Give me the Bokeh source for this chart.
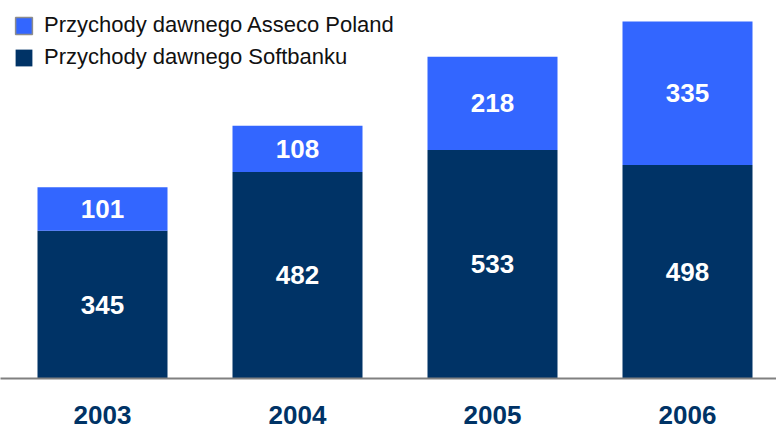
from bokeh.plotting import figure
from bokeh.models import Range1d, LinearAxis, FixedTicker, ColumnDataSource, Legend, LegendItem
from bokeh.core.properties import value
from bokeh.embed import file_html
from bokeh.resources import INLINE

years = ["2003", "2004", "2005", "2006"]
softbank = [345, 482, 533, 498]
asseco = [101, 108, 218, 335]
series_names = ["Przychody dawnego Asseco Poland", "Przychody dawnego Softbanku"]

DARK = "#003366"
LIGHT = "#3366FF"
FONT = "Liberation Sans"

x = list(range(len(years)))
src = ColumnDataSource(dict(
    x=x, soft=softbank, ass=asseco,
    soft_mid=[s / 2 for s in softbank],
    ass_mid=[s + a / 2 for s, a in zip(softbank, asseco)],
    soft_lbl=[str(v) for v in softbank],
    ass_lbl=[str(v) for v in asseco],
))

W, H = 776, 428
FRAME_H = 378
p = figure(width=W, height=H, output_backend="svg", toolbar_location=None,
           x_range=Range1d(-102 / 195, -102 / 195 + W / 195),
           y_range=Range1d(0, FRAME_H / (357 / 833)),
           min_border_left=0, min_border_right=0, min_border_top=0,
           min_border_bottom=H - FRAME_H,
           x_axis_type=None, y_axis_type=None)
p.outline_line_color = None
p.grid.visible = False
p.background_fill_color = "white"
p.border_fill_color = "white"

rs = p.vbar_stack(["soft", "ass"], x="x", width=130 / 195, source=src,
                  color=[DARK, LIGHT], line_color=None)

# legend-only swatch for the Asseco series (thin grey border, as in the original); draws nothing
nan = float("nan")
swatch_src = ColumnDataSource(dict(x=[nan], top=[nan]))
swatch_a = p.vbar(x="x", top="top", width=0.5, source=swatch_src, fill_color=LIGHT,
                  line_color="#8c8c8c", line_width=1.5)

lbl_kw = dict(text_color="white", text_font=value(FONT), text_font_style="bold",
              text_font_size="26px", text_align="center", text_baseline="middle")
p.text(x="x", y="soft_mid", text="soft_lbl", source=src, **lbl_kw)
p.text(x="x", y="ass_mid", text="ass_lbl", source=src, **lbl_kw)

xaxis = LinearAxis(ticker=FixedTicker(ticks=x),
                   major_label_overrides={i: y for i, y in zip(x, years)})
xaxis.axis_line_color = "#808080"
xaxis.axis_line_width = 2
xaxis.major_tick_line_color = None
xaxis.minor_tick_line_color = None
xaxis.major_label_text_font = FONT
xaxis.major_label_text_font_style = "bold"
xaxis.major_label_text_font_size = "26px"
xaxis.major_label_text_color = DARK
xaxis.major_label_standoff = 21
p.add_layout(xaxis, "below")

leg_kw = dict(margin=0, padding=0, glyph_width=21, glyph_height=21, label_standoff=10,
              label_text_font=FONT, label_text_font_size="22px",
              label_text_color="#111111", border_line_color=None,
              background_fill_alpha=0)
leg1 = Legend(items=[LegendItem(label=series_names[0], renderers=[swatch_a])],
              location=(13, 340), **leg_kw)
leg2 = Legend(items=[LegendItem(label=series_names[1], renderers=[rs[0]])],
              location=(13, 308), **leg_kw)
p.add_layout(leg1)
p.add_layout(leg2)

open("out.html", "w").write(file_html(p, INLINE))
